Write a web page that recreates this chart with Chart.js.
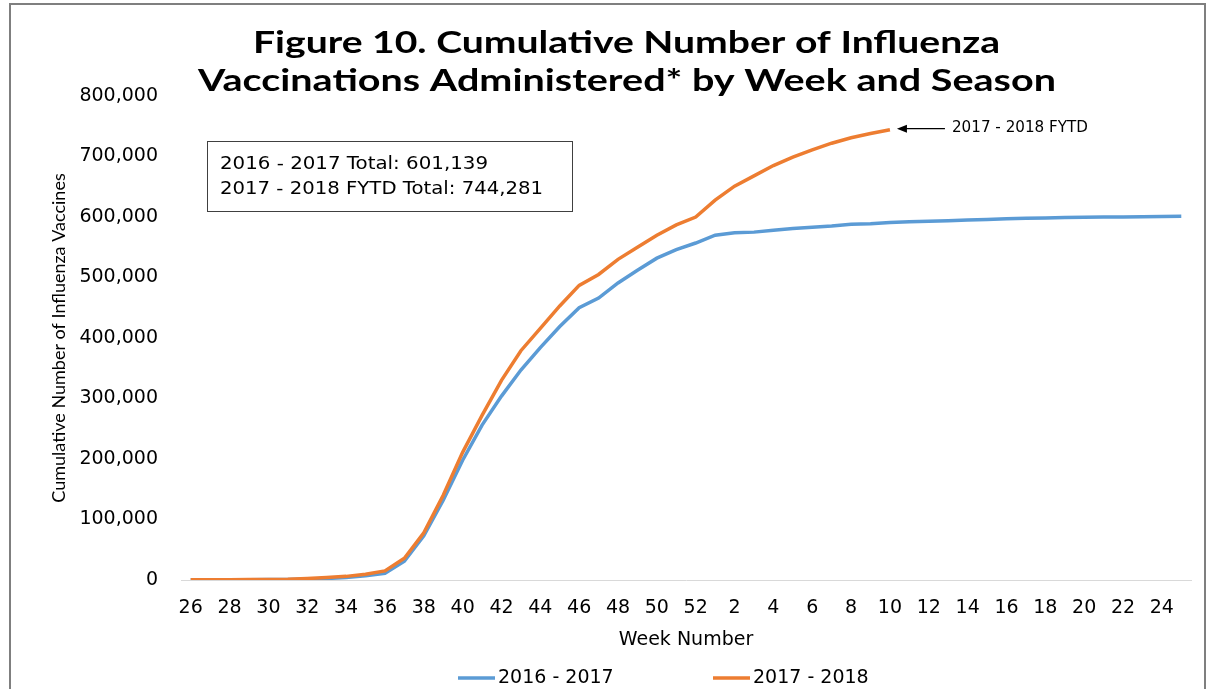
<!DOCTYPE html>
<html>
<head>
<meta charset="utf-8">
<script src="https://cdn.jsdelivr.net/npm/chart.js@4.4.1/dist/chart.umd.min.js"></script>
<style>
  html, body { margin: 0; padding: 0; background: #ffffff; }
  #wrap { position: relative; width: 1208px; height: 689px; overflow: hidden; }
  #frame { position: absolute; left: 9px; top: 3px; width: 1197px; height: 700px; border: 2px solid #7f7f7f; box-sizing: border-box; }
  canvas { position: absolute; left: 0; top: 0; }
</style>
</head>
<body>
<div id="wrap">
  <div id="frame"></div>
  <canvas id="c" width="1208" height="689"></canvas>
</div>
<script>
// ---- data ----
const weeks = ['26','27','28','29','30','31','32','33','34','35','36','37','38','39','40','41','42','43','44','45','46','47','48','49','50','51','52',
               '1','2','3','4','5','6','7','8','9','10','11','12','13','14','15','16','17','18','19','20','21','22','23','24','25'];
const season2016 = [300,400,500,600,700,900,1500,2500,4000,7000,11000,31000,73000,132000,198000,256000,304000,347000,384000,419000,450000,466000,491000,512000,532000,546000,557000,
                    570000,574000,575000,578000,581000,583000,585000,588000,589000,591000,592000,593000,594000,595000,596000,597000,598000,598500,599000,599500,600000,600200,600500,601000,601139];
const season2017 = [300,400,500,700,900,1300,2500,4000,6000,9500,15000,36000,78000,140000,211000,272000,330000,379000,416000,453000,487000,505000,530000,550000,570000,587000,600000,
                    628000,651000,668000,685000,699000,711000,722000,731000,738000,744281,null,null,null,null,null,null,null,null,null,null,null,null,null,null,null];
const seriesNames = ['2016 - 2017', '2017 - 2018'];
const seriesColors = ['#5B9BD5', '#ED7D31'];
const titleLines = ['Figure 10. Cumulative Number of Influenza', 'Vaccinations Administered* by Week and Season'];
const boxLines = ['2016 - 2017 Total: 601,139', '2017 - 2018 FYTD Total: 744,281'];
const calloutText = '2017 - 2018 FYTD';
const yTitle = 'Cumulative Number of Influenza Vaccines';
const xTitle = 'Week Number';

function stretchedText(ctx, text, x, y, targetW) {
  const m = ctx.measureText(text).width;
  ctx.save();
  ctx.translate(x, y);
  ctx.scale(targetW / m, 1);
  ctx.fillText(text, 0, 0);
  ctx.restore();
}

const decor = {
  id: 'decor',
  afterDraw(chart) {
    const ctx = chart.ctx;
    ctx.save();
    // title
    ctx.fillStyle = '#000';
    ctx.textAlign = 'center';
    ctx.textBaseline = 'alphabetic';
    ctx.font = 'bold 30px Lato';
    stretchedText(ctx, titleLines[0], 626.5, 53, 747);
    stretchedText(ctx, titleLines[1], 627, 91, 858);
    // text box
    ctx.strokeStyle = '#404040';
    ctx.lineWidth = 1;
    ctx.strokeRect(207.5, 141.5, 365, 70);
    ctx.textAlign = 'left';
    ctx.textBaseline = 'middle';
    ctx.font = '18px "DejaVu Sans"';
    ctx.fillStyle = '#000';
    stretchedText(ctx, boxLines[0], 220, 164, 268);
    stretchedText(ctx, boxLines[1], 220, 189, 323);
    // callout arrow to last 2017-2018 point
    const meta = chart.getDatasetMeta(1);
    let last = null;
    meta.data.forEach((p, i) => { if (season2017[i] !== null) last = p; });
    if (last) {
      const tipX = last.x + 7, tipY = last.y - 1;
      ctx.strokeStyle = '#000';
      ctx.fillStyle = '#000';
      ctx.lineWidth = 1.2;
      ctx.beginPath();
      ctx.moveTo(tipX + 8, tipY);
      ctx.lineTo(tipX + 48, tipY);
      ctx.stroke();
      ctx.beginPath();
      ctx.moveTo(tipX, tipY);
      ctx.lineTo(tipX + 10, tipY - 4);
      ctx.lineTo(tipX + 10, tipY + 4);
      ctx.closePath();
      ctx.fill();
      ctx.font = '15px "DejaVu Sans"';
      ctx.textBaseline = 'middle';
      stretchedText(ctx, calloutText, tipX + 55, tipY - 1, 136);
    }
    // legend
    ctx.font = '19px "DejaVu Sans"';
    ctx.textBaseline = 'middle';
    const legY = 678;
    const legX = [458, 713];
    seriesNames.forEach((n, i) => {
      ctx.strokeStyle = seriesColors[i];
      ctx.lineWidth = 3.5;
      ctx.beginPath();
      ctx.moveTo(legX[i], legY);
      ctx.lineTo(legX[i] + 37, legY);
      ctx.stroke();
      ctx.fillStyle = '#000';
      ctx.fillText(n, legX[i] + 40, legY);
    });
    ctx.restore();
  }
};

new Chart(document.getElementById('c'), {
  type: 'line',
  data: {
    labels: weeks,
    datasets: [
      { label: seriesNames[0], data: season2016, borderColor: seriesColors[0], backgroundColor: seriesColors[0], borderWidth: 3.5, pointRadius: 0, tension: 0, order: 1 },
      { label: seriesNames[1], data: season2017, borderColor: seriesColors[1], backgroundColor: seriesColors[1], borderWidth: 3.5, pointRadius: 0, tension: 0, order: 0, spanGaps: false }
    ]
  },
  options: {
    responsive: false,
    animation: false,
    layout: { padding: { top: 96, left: 10, right: 17, bottom: 0 } },
    plugins: { legend: { display: false }, title: { display: false }, tooltip: { enabled: false } },
    scales: {
      x: {
        offset: true,
        grid: { display: false, drawTicks: false },
        border: { display: true, color: '#d9d9d9', width: 1 },
        ticks: {
          autoSkip: false, maxRotation: 0, minRotation: 0, padding: 17,
          color: '#000', font: { family: 'DejaVu Sans', size: 19 },
          callback: (v, i) => (i % 2 === 0 ? weeks[i] : '')
        },
        title: { display: true, text: xTitle, color: '#000', font: { family: 'DejaVu Sans', size: 19 }, padding: { top: 0, bottom: 38 } },
        afterFit: (s) => { s.height = 109; }
      },
      y: {
        min: 0, max: 800000,
        grid: { display: false, drawTicks: false },
        border: { display: false },
        ticks: {
          stepSize: 100000, padding: 23, color: '#000',
          font: { family: 'DejaVu Sans', size: 19 },
          callback: (v) => Number(v).toLocaleString('en-US')
        },
        title: { display: true, text: yTitle, color: '#000', font: { family: 'Lato', size: 18 }, padding: { top: 38, bottom: 0 } },
        afterFit: (s) => { s.width = 171; }
      }
    }
  },
  plugins: [decor]
});
</script>
</body>
</html>
